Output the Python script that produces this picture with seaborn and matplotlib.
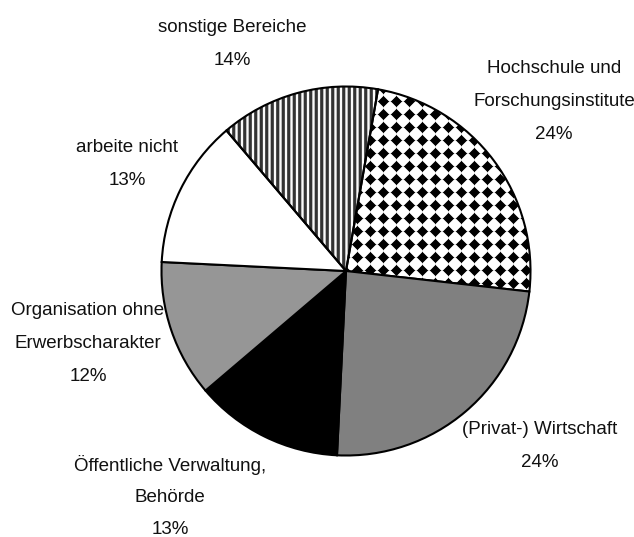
import numpy as np
import matplotlib
matplotlib.use("Agg")
import matplotlib.pyplot as plt
import seaborn as sns

# Shares of graduates by field of occupation (percent)
categories = [
    "Hochschule und\nForschungsinstitute",
    "(Privat-) Wirtschaft",
    "Öffentliche Verwaltung,\nBehörde",
    "Organisation ohne\nErwerbscharakter",
    "arbeite nicht",
    "sonstige Bereiche",
]
shares = [24, 24, 13, 12, 13, 14]

# Styling
fills = ["diamonds", "#808080", "#000000", "#969696", "#ffffff", "stripes"]
# label anchor: x centre, baseline of first line (pixels from top), line step
label_layout = [
    (554, 73, 33),
    (540, 434, 33),
    (170, 471, 31.5),
    (88, 315, 33),
    (127, 152, 33),
    (232, 32, 33),
]

sns.set_theme(style="white")
plt.rcParams["font.family"] = ["Liberation Sans", "DejaVu Sans"]

W, H = 634, 537
fig = plt.figure(figsize=(W / 100, H / 100), dpi=100)
ax = fig.add_axes([0, 0, 1, 1])

solid = [c if c.startswith("#") else "#ffffff" for c in fills]
wedges, _ = ax.pie(
    shares,
    colors=solid,
    startangle=80,
    counterclock=False,
    center=(346, H - 271),
    radius=184.5,
    wedgeprops=dict(edgecolor="black", linewidth=1.5),
)

# Pattern textures, clipped to their wedges
yy, xx = np.mgrid[0:H, 0:W] + 0.5
p = 13.0
dx = (xx % p) - p / 2
dy = (yy % p) - p / 2
dist = np.abs(dx) + np.abs(dy)
diamond_tex = np.clip((dist - 4.9) / 1.3, 0, 1)

ps = 5.5
tri = np.abs(((xx / ps) % 1.0) - 0.5) * 2
stripe_tex = 0.2 + 0.78 * np.clip((tri - 0.4) / 0.35, 0, 1)

textures = {"diamonds": diamond_tex, "stripes": stripe_tex}
for wedge, fill in zip(wedges, fills):
    if fill in textures:
        im = ax.imshow(
            textures[fill], cmap="gray", vmin=0, vmax=1,
            extent=(0, W, 0, H), origin="lower",
            interpolation="nearest", zorder=0.5,
        )
        im.set_clip_path(wedge)
        wedge.set_facecolor("none")

for cat, val, (x, yb, step) in zip(categories, shares, label_layout):
    lines = cat.split("\n") + [f"{val}%"]
    for j, line in enumerate(lines):
        ax.text(x, H - (yb + j * step), line, ha="center", va="baseline",
                fontsize=13.5, color="#111111")

ax.set_xlim(0, W)
ax.set_ylim(0, H)
ax.set_aspect("equal")
ax.axis("off")
fig.savefig("out.png", dpi=100, facecolor="white")
